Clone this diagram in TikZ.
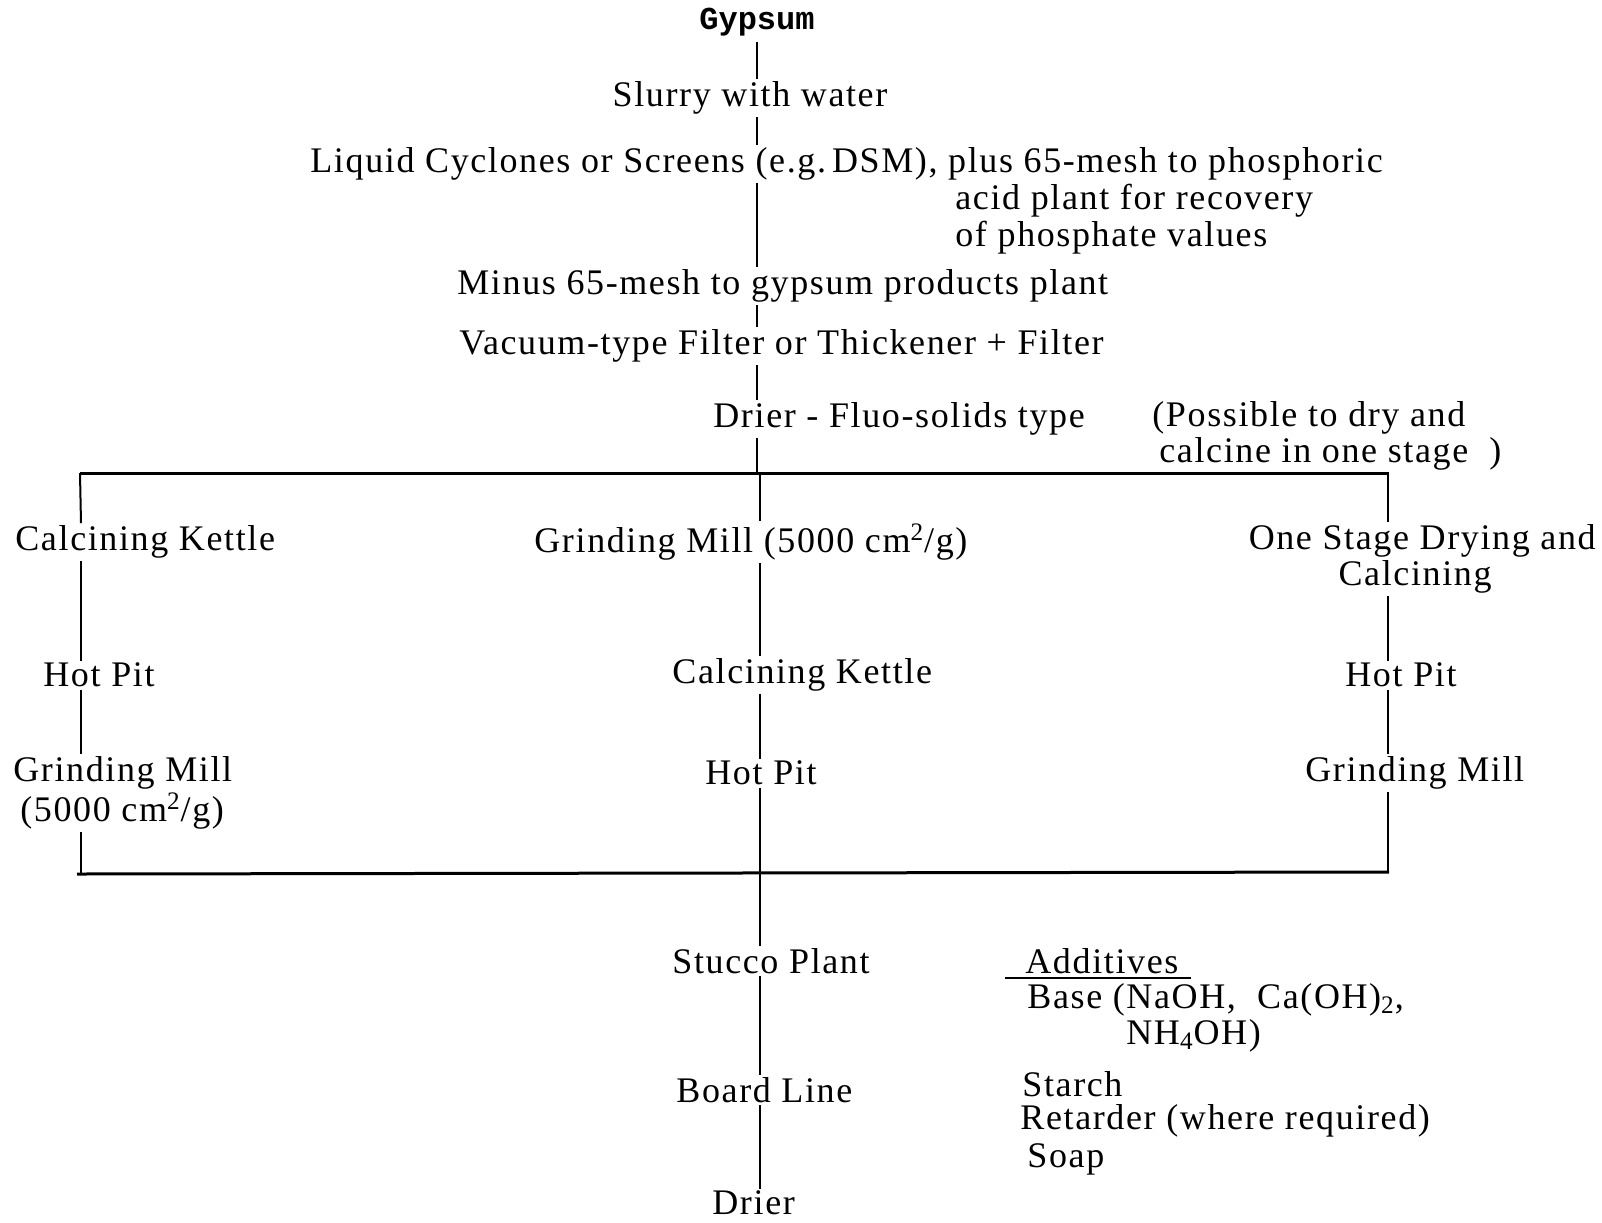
\documentclass[tikz,border=0pt]{standalone}
\usepackage{fontspec}
\setmainfont{Liberation Serif}[LetterSpace=4.5]
\newfontfamily\gypfont{Liberation Mono}
\begin{document}
\begin{tikzpicture}[x=0.5pt,y=-0.5pt,
  lbl/.style={font=\fontsize{18}{21}\selectfont, inner xsep=0pt, inner ysep=1pt, anchor=west, yshift=-2pt},
  gyps/.style={font=\gypfont\bfseries\fontsize{16}{19}\selectfont, inner sep=3pt},
  conn/.style={line width=1pt},
  frame/.style={line width=1.5pt}]
\useasboundingbox (0,0) rectangle (1602,1222);
% column x positions
\coordinate (sp) at (757,0);
\coordinate (cc) at (760,0);
\coordinate (lc) at (81,0);
\coordinate (rc) at (1388,0);
% frame corners
\coordinate (tl) at (80,473);
\coordinate (tr) at (1389,473);
\coordinate (bl) at (77,874);
\coordinate (br) at (1389,872);
\coordinate (tc) at (760,473);
\coordinate (bc) at (760,873);

\node[gyps] (gyp) at (757,22) {Gypsum};
\node[lbl, anchor=center] (slurry) at (750,94) {Slurry with water};
\node[lbl] (liq) at (310,160) {Liquid Cyclones or Screens (e.g.\,DSM), plus 65-mesh to phosphoric};
\node[lbl] (acid) at (955,197) {acid plant for recovery};
\node[lbl] (ofp) at (955,234) {of phosphate values};
\node[lbl] (minus) at (457,282) {Minus 65-mesh to gypsum products plant};
\node[lbl] (vac) at (459,342) {Vacuum-type Filter or Thickener + Filter};
\node[lbl] (drier1) at (713,415) {Drier - Fluo-solids type};
\node[lbl] (poss) at (1152,414) {(Possible to dry and};
\node[lbl] (calc1) at (1159,450) {calcine in one stage\ \ )};

\node[lbl] (lck) at (15,538) {Calcining Kettle};
\node[lbl] (cgm) at (534,538) {Grinding Mill (5000 cm\textsuperscript{2}/g)};
\node[lbl, anchor=east] (rosd) at (1596,537) {One Stage Drying and};
\node[lbl, anchor=center] (rcal) at (1415,573) {Calcining};
\node[lbl] (lhp) at (43,671) {Hot Pit};
\node[lbl] (cck) at (672,671) {Calcining Kettle};
\node[lbl] (rhp) at (1345,671) {Hot Pit};
\node[lbl] (lgm) at (13,769) {Grinding Mill};
\node[lbl] (l5000) at (20,807) {(5000 cm\textsuperscript{2}/g)};
\node[lbl] (chp) at (705,769) {Hot Pit};
\node[lbl] (rgm) at (1305,769) {Grinding Mill};

\node[lbl] (stucco) at (672,957) {Stucco Plant};
\node[lbl] (board) at (676,1086) {Board Line};
\node[lbl] (drier2) at (712,1199) {Drier};
\node[lbl] (add) at (1025,957) {Additives};
\node[lbl] (base) at (1027,996) {Base (NaOH, \ Ca(OH)\textsubscript{2},};
\node[lbl] (nh4) at (1126,1032) {NH\textsubscript{4}OH)};
\node[lbl] (starch) at (1022,1080) {Starch};
\node[lbl] (ret) at (1020,1117) {Retarder (where required)};
\node[lbl] (soap) at (1027,1155) {Soap};

% underline of Additives
\draw[conn] ([xshift=-10pt, yshift=-1pt]add.south west) -- ([xshift=6pt, yshift=-1pt]add.south east);

% top spine
\draw[conn] (gyp.south -| sp) -- (slurry.north -| sp);
\draw[conn] (slurry.south -| sp) -- (liq.north -| sp);
\draw[conn] (liq.south -| sp) -- (minus.north -| sp);
\draw[conn] (minus.south -| sp) -- (vac.north -| sp);
\draw[conn] (vac.south -| sp) -- (drier1.north -| sp);
\draw[conn] (drier1.south -| sp) -- (tc -| sp);

% frame
\draw[frame] (tl) -- (tr);
\draw[frame] (bl) -- (br);

% left column
\draw[conn] (tl) -- (lck.north -| lc);
\draw[conn] (lck.south -| lc) -- (lhp.north -| lc);
\draw[conn] (lhp.south -| lc) -- (lgm.north -| lc);
\draw[conn] (l5000.south -| lc) -- (bl -| lc);

% centre column
\draw[conn] (tc) -- (cgm.north -| cc);
\draw[conn] (cgm.south -| cc) -- (cck.north -| cc);
\draw[conn] (cck.south -| cc) -- (chp.north -| cc);
\draw[conn] (chp.south -| cc) -- (bc);

% right column
\draw[conn] (tr -| rc) -- (rosd.north -| rc);
\draw[conn] (rcal.south -| rc) -- (rhp.north -| rc);
\draw[conn] (rhp.south -| rc) -- (rgm.north -| rc);
\draw[conn] (rgm.south -| rc) -- (br -| rc);

% bottom spine
\draw[conn] (bc) -- (stucco.north -| cc);
\draw[conn] (stucco.south -| cc) -- (board.north -| cc);
\draw[conn] (board.south -| cc) -- (drier2.north -| cc);
\end{tikzpicture}
\end{document}
